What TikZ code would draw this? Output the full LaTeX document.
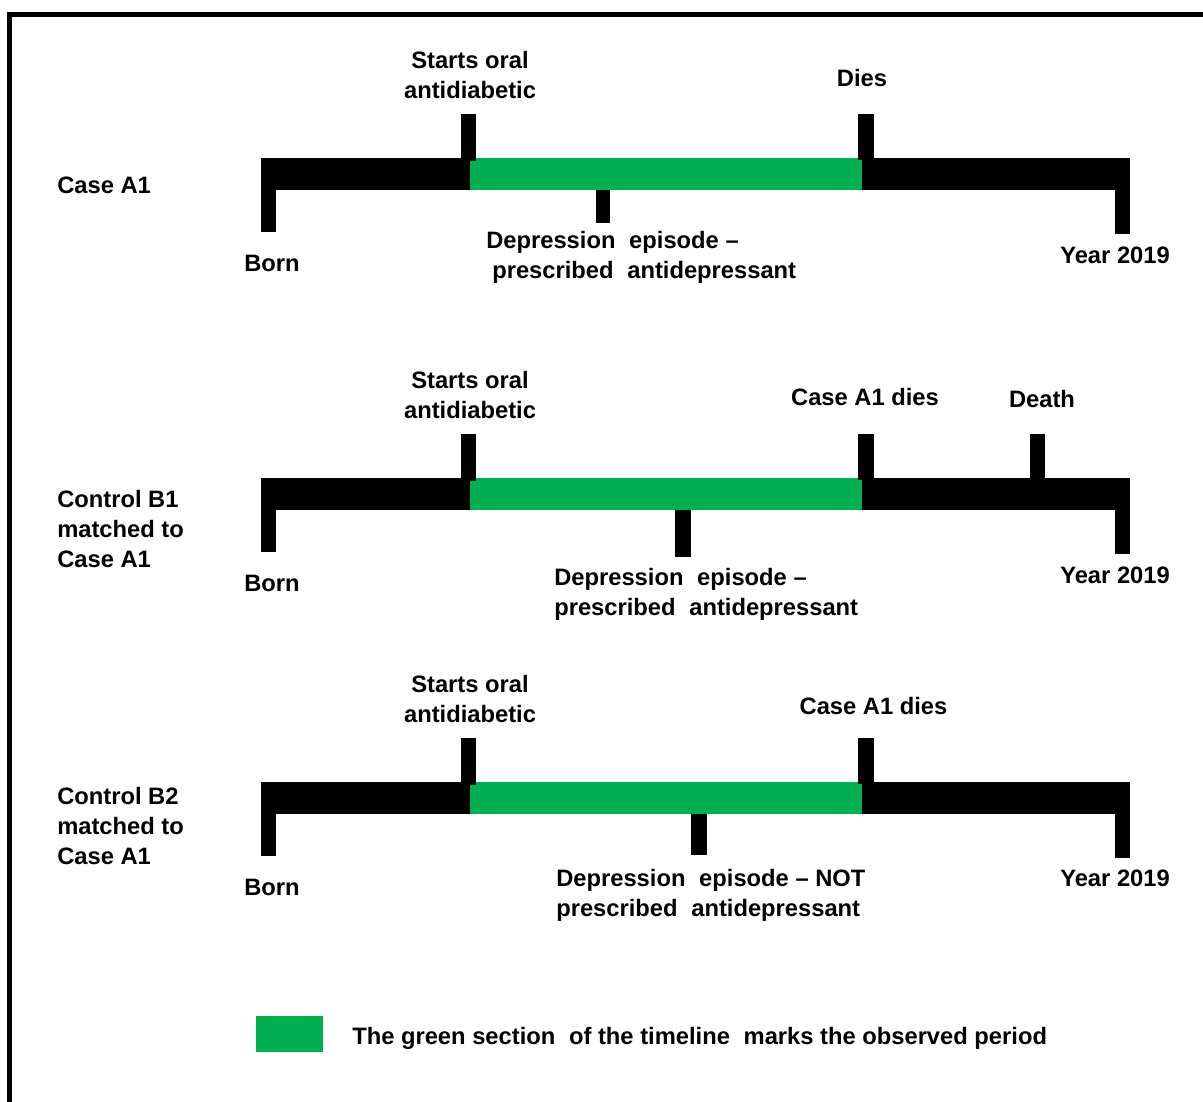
\documentclass[tikz,border=0pt]{standalone}
\usepackage{fontspec}
\setmainfont{Liberation Sans}
\definecolor{obsgreen}{HTML}{00B050}
% a slightly wider word gap, as set in the labels
\newcommand\wgap{\hspace{0.3em}}
\begin{document}
\begin{tikzpicture}[x=0.75pt,y=-0.75pt,
  lbl/.style={font=\fontsize{17.8}{22.5}\selectfont\bfseries, inner sep=0pt, text=black},
  timebar/.pic={
    % black timeline with the birth and 2019 end ticks
    \fill[black] (261,0) rectangle (1130,32);
    \fill[black] (261,0) rectangle (276,74);
    \fill[black] (1115,0) rectangle (1130,76);
    % observed period
    \fill[obsgreen] (470,0) rectangle (862,32);
    % start of antidiabetic and death of case A1
    \fill[black] (461,-44) rectangle (476,3);
    \fill[black] (858,-44) rectangle (874,2);
  }]
\useasboundingbox (0,0) rectangle (1203,1102);
\fill[white] (0,0) rectangle (1203,1102);
% frame
\fill[black] (7,12) rectangle (1203,17);
\fill[black] (7,12) rectangle (12,1102);

% ---------- Case A1 ----------
\pic at (0,158) {timebar};
\fill[black] (596,190) rectangle (610,223);
\node[lbl, anchor=north, align=center] (s1) at (470,51.5) {Starts oral\\antidiabetic};
\node[lbl] (d1) at (862,78) {Dies};
\node[lbl, anchor=west] (c1) at (57,185) {Case A1};
\node[lbl, anchor=west] (b1) at (244,263) {Born};
\node[lbl, anchor=north west, align=left] (p1) at (486,231.5)
  {Depression \wgap episode –\\\hspace*{4.5pt}prescribed \wgap antidepressant};
\node[lbl, anchor=west] (y1) at (1060,255) {Year 2019};

% ---------- Control B1 ----------
\pic at (0,478) {timebar};
\fill[black] (675,510) rectangle (691,557);
\fill[black] (1030,434) rectangle (1045,480);
\node[lbl, anchor=north, align=center] (s2) at (470,371.5) {Starts oral\\antidiabetic};
\node[lbl] (d2) at (865,397) {Case A1 dies};
\node[lbl] (x2) at (1042,399) {Death};
\node[lbl, anchor=north west, align=left] (c2) at (57,490.5) {Control B1\\matched to\\Case A1};
\node[lbl, anchor=west] (b2) at (244,583) {Born};
\node[lbl, anchor=north west, align=left] (p2) at (554,568.5)
  {Depression \wgap episode –\\prescribed \wgap antidepressant};
\node[lbl, anchor=west] (y2) at (1060,575) {Year 2019};

% ---------- Control B2 ----------
\pic at (0,782) {timebar};
\fill[black] (691,814) rectangle (707,855);
\node[lbl, anchor=north, align=center] (s3) at (470,675.5) {Starts oral\\antidiabetic};
\node[lbl] (d3) at (873.5,706) {Case A1 dies};
\node[lbl, anchor=north west, align=left] (c3) at (57,787.5) {Control B2\\matched to\\Case A1};
\node[lbl, anchor=west] (b3) at (244,887) {Born};
\node[lbl, anchor=north west, align=left] (p3) at (556,869.5)
  {Depression \wgap episode – NOT\\prescribed \wgap antidepressant};
\node[lbl, anchor=west] (y3) at (1060,878) {Year 2019};

% ---------- legend ----------
\fill[obsgreen] (256,1016) rectangle (323,1052);
\node[lbl, anchor=base west] (leg) at (352,1044)
  {The green section \wgap of the timeline \wgap marks the observed period};
\end{tikzpicture}
\end{document}
